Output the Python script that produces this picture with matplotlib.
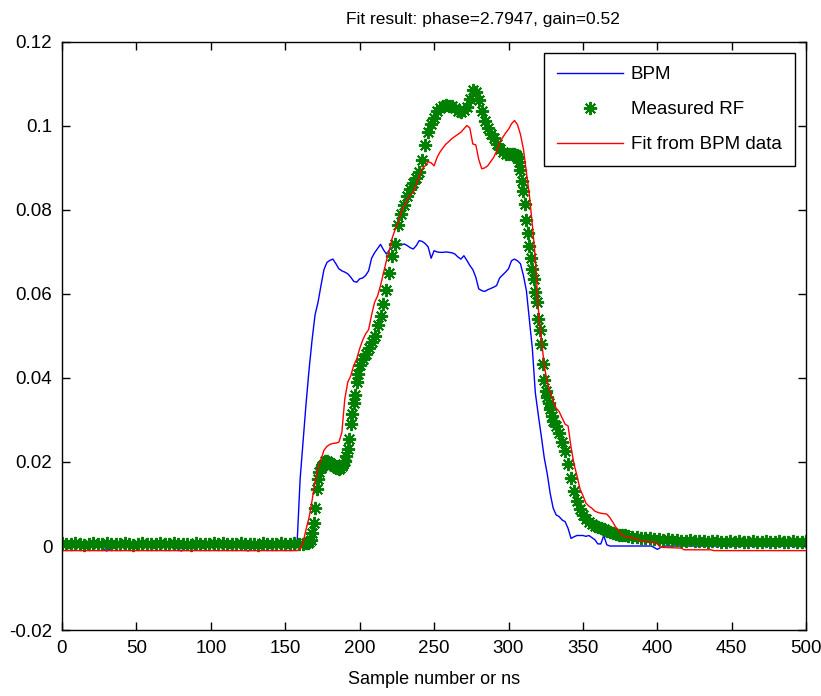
import matplotlib
matplotlib.use('Agg')
import matplotlib.pyplot as plt
import numpy as np

plt.rcParams['font.family'] = ['Liberation Sans', 'DejaVu Sans']

# ---- BPM signal (blue) ----
bpm_x = np.concatenate([np.arange(0, 156, 5), np.arange(158, 371, 2), np.arange(372, 501, 4)])
bpm_y = [0.0, 0.0, 0.0, 0.0, 0.0, 0.0, -0.0012, 0.0, 0.0, 0.0,
         0.0, 0.0, 0.0, 0.0, 0.0, 0.0, -0.0012, 0.0, 0.0, 0.0,
         0.0, 0.0, 0.0, 0.0, 0.0, -0.0012, 0.0, 0.0, 0.0, 0.0,
         0.0, 0.0,
         # pulse
         0.001, 0.016, 0.025, 0.034, 0.042, 0.049, 0.055, 0.058, 0.062, 0.0658,
         0.0675, 0.068, 0.0683, 0.0672, 0.066, 0.0655, 0.0652, 0.0648, 0.064, 0.063,
         0.0628, 0.0636, 0.0638, 0.0644, 0.0655, 0.0685, 0.0698, 0.0708, 0.0718, 0.0705,
         0.0695, 0.0705, 0.0712, 0.071, 0.0715, 0.0717, 0.0719, 0.0715, 0.071, 0.0707,
         0.0715, 0.0727, 0.0725, 0.072, 0.0712, 0.0685, 0.0703, 0.07, 0.0699, 0.0699,
         0.07, 0.0699, 0.0698, 0.0695, 0.0688, 0.0683, 0.0691, 0.068, 0.0668, 0.0658,
         0.064, 0.0612, 0.0608, 0.0606, 0.061, 0.0613, 0.0616, 0.062, 0.0638, 0.0645,
         0.0652, 0.066, 0.0679, 0.0683, 0.0679, 0.0672, 0.0644, 0.0608, 0.054, 0.047,
         0.0365, 0.0312, 0.0262, 0.021, 0.0172, 0.0125, 0.009, 0.0074, 0.007, 0.0062,
         0.0058, 0.0042, 0.0018, 0.0022, 0.0025, 0.0025, 0.0025, 0.0023, 0.0025, 0.002,
         0.0015, 0.0005, 0.0005, 0.0025, 0.0003, 0.0, 0.0,
         # tail
         0.0, 0.0, 0.0, 0.0, 0.0, 0.0, 0.0, -0.0008, 0.0, 0.0,
         0.0, 0.0, 0.0, 0.0, 0.0, 0.0, 0.0, 0.0, 0.0, 0.0,
         0.0, 0.0, 0.0, 0.0, 0.0, 0.0, 0.0, 0.0, 0.0, 0.0,
         0.0, 0.0, 0.0]

# ---- Measured RF (green stars) ----
rf_x = np.concatenate([np.arange(0, 163, 3), np.arange(164, 201, 1), np.arange(202, 305, 2),
                       np.arange(305, 331, 1), np.arange(332, 381, 2), np.arange(383, 501, 3)])
rf_y = [0.0006, 0.0005, 0.0004, 0.0006, 0.0005, 0.0003, 0.0005, 0.0006, 0.0004, 0.0005,
        0.0007, 0.0005, 0.0004, 0.0005, 0.0006, 0.0005, 0.0003, 0.0005, 0.0006, 0.0004,
        0.0005, 0.0005, 0.0007, 0.0004, 0.0005, 0.0006, 0.0005, 0.0004, 0.0005, 0.0003,
        0.0006, 0.0005, 0.0005, 0.0004, 0.0006, 0.0005, 0.0007, 0.0005, 0.0004, 0.0005,
        0.0006, 0.0004, 0.0005, 0.0005, 0.0003, 0.0006, 0.0005, 0.0004, 0.0005, 0.0006,
        0.0005, 0.0004, 0.0006, 0.0005, 0.0005,
        # 164..200
        0.0006, 0.0008, 0.001, 0.0015, 0.003, 0.0055, 0.009, 0.0135, 0.016, 0.0175,
        0.0185, 0.019, 0.0195, 0.0202, 0.0203, 0.02, 0.0198, 0.0195, 0.0192, 0.019,
        0.0188, 0.0186, 0.0184, 0.0185, 0.019, 0.0196, 0.0203, 0.0215, 0.023, 0.0255,
        0.029, 0.0315, 0.034, 0.036, 0.039, 0.041, 0.043,
        # 202..304
        0.0445, 0.0458, 0.0472, 0.0485, 0.05, 0.0525, 0.0548, 0.0575, 0.061, 0.065,
        0.069, 0.072, 0.0765, 0.079, 0.0812, 0.0832, 0.085, 0.0865, 0.0876, 0.089,
        0.092, 0.0955, 0.0985, 0.1005, 0.102, 0.1035, 0.1042, 0.1048, 0.105, 0.1048,
        0.1047, 0.1042, 0.1035, 0.1033, 0.1037, 0.1045, 0.1065, 0.1085, 0.108, 0.1062,
        0.1035, 0.1012, 0.0995, 0.098, 0.0972, 0.0958, 0.0945, 0.0938, 0.0934, 0.0933,
        0.0933, 0.0932,
        # 305..330
        0.093, 0.0926, 0.0915, 0.0895, 0.087, 0.0845, 0.0815, 0.0775, 0.0745, 0.0715,
        0.0685, 0.066, 0.0635, 0.0605, 0.058, 0.054, 0.0513, 0.0481, 0.0433, 0.0394,
        0.037, 0.0355, 0.034, 0.0326, 0.031, 0.0298,
        # 332..380
        0.0285, 0.0268, 0.0248, 0.0225, 0.0195, 0.0162, 0.0132, 0.0108, 0.0088, 0.0074,
        0.0064, 0.0057, 0.0052, 0.0048, 0.0046, 0.0043, 0.004, 0.0036, 0.0034, 0.0032,
        0.0029, 0.0027, 0.0026, 0.0025, 0.0024,
        # 383..500
        0.0022, 0.0021, 0.002, 0.0019, 0.0018, 0.0017, 0.0017, 0.0015, 0.0016, 0.0014,
        0.0015, 0.0013, 0.0012, 0.0014, 0.0012, 0.0011, 0.0012, 0.001, 0.0011, 0.0012,
        0.001, 0.0009, 0.0011, 0.001, 0.0012, 0.001, 0.0009, 0.0011, 0.001, 0.001,
        0.0012, 0.0009, 0.001, 0.0011, 0.001, 0.0009, 0.0011, 0.001, 0.001, 0.0011]

# ---- Fit from BPM data (red) ----
fit_x = np.concatenate([[0, 158], np.arange(160, 403, 2), [416, 418, 436, 438, 500]])
fit_y = [-0.0011, -0.0011,
         -0.0007, 0.0009, 0.004, 0.0068, 0.0108, 0.0152, 0.0185, 0.0205, 0.0228, 0.0237,
         0.0242, 0.0244, 0.0245, 0.0247, 0.027, 0.035, 0.039, 0.0405, 0.043, 0.0445,
         0.047, 0.049, 0.0505, 0.0515, 0.055, 0.058, 0.0595, 0.062, 0.065, 0.068,
         0.0705, 0.0735, 0.0755, 0.0772, 0.0795, 0.081, 0.0825, 0.0835, 0.0842, 0.086,
         0.088, 0.0898, 0.0905, 0.0915, 0.0912, 0.0905, 0.0925, 0.0938, 0.0948, 0.0957,
         0.0963, 0.097, 0.0975, 0.098, 0.0985, 0.0993, 0.1001, 0.0995, 0.0957, 0.0955,
         0.092, 0.0898, 0.09, 0.0905, 0.0915, 0.0925, 0.094, 0.096, 0.0972, 0.0983,
         0.0992, 0.1005, 0.1013, 0.1003, 0.098, 0.0945, 0.089, 0.0835, 0.0765, 0.0685,
         0.0565, 0.0495, 0.043, 0.039, 0.0366, 0.0345, 0.0328, 0.032, 0.0305, 0.029,
         0.0286, 0.0235, 0.0195, 0.0167, 0.0136, 0.012, 0.0102, 0.0095, 0.009, 0.0083,
         0.008, 0.0078, 0.0077, 0.0076, 0.0068, 0.0057, 0.0045, 0.0036, 0.0026, 0.0023,
         0.0021, 0.0021, 0.0019, 0.0016, 0.0014, 0.0012, 0.0011, 0.001, 0.0009, 0.0009,
         0.0005, -0.0003,
         -0.0005, -0.0009, -0.0009, -0.0011, -0.0011]

x_ticks = [0, 50, 100, 150, 200, 250, 300, 350, 400, 450, 500]
y_ticks = [-0.02, 0, 0.02, 0.04, 0.06, 0.08, 0.1, 0.12]
y_tick_labels = ['-0.02', '0', '0.02', '0.04', '0.06', '0.08', '0.1', '0.12']

fig = plt.figure(figsize=(8.21, 6.96), dpi=100)
ax = fig.add_axes([0.0755, 0.0948, 0.9065, 0.845])

ax.plot(bpm_x, bpm_y, color='#0000ff', lw=1.0, label='BPM')
ax.plot(rf_x, rf_y, ls='none', marker=(8, 2, 0), ms=9.5, mew=1.4,
        color='#008000', label='Measured RF')
ax.plot(fit_x, fit_y, color='#ff0000', lw=1.0, label='Fit from BPM data')

ax.set_xlim(0, 500)
ax.set_ylim(-0.02, 0.12)
ax.set_xticks(x_ticks)
ax.set_yticks(y_ticks)
ax.set_yticklabels(y_tick_labels)
ax.tick_params(direction='in', top=True, right=True, length=6, width=1,
               labelsize=13.5, pad=7)
for s in ax.spines.values():
    s.set_linewidth(1.0)

ax.set_title('Fit result: phase=2.7947, gain=0.52', fontsize=12.5, pad=13, x=0.565)
ax.set_xlabel('Sample number or ns', fontsize=13, labelpad=10)

leg = ax.legend(loc='upper right', fontsize=13.5, handlelength=3.5, labelspacing=0.95,
                borderaxespad=0.6, fancybox=False, framealpha=1, edgecolor='black',
                borderpad=0.7, handletextpad=0.45)
leg.get_frame().set_linewidth(1.0)

fig.savefig('out.png', dpi=100)
